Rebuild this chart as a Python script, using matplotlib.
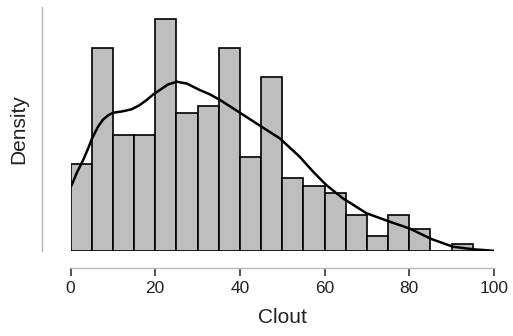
import numpy as np
import matplotlib.pyplot as plt

plt.rcParams['font.family'] = ['Liberation Sans', 'DejaVu Sans']

# histogram of Clout, bins of width 5
bin_edges = np.arange(0, 105, 5)
counts = [12, 28, 16, 16, 32, 19, 20, 28, 13, 24, 10, 9, 8, 5, 2, 5, 3, 0, 1, 0]

# density curve
kde_x = [0.3, 1.5, 3.0, 4.2, 5.1, 6.5, 7.7, 9.0, 10.1, 12.3, 14.4, 16.2,
         18.0, 19.5, 21.1, 23.0, 25.1, 27.5, 30.5, 33.0, 35.3, 40.0, 45.1,
         49.4, 54.1, 57.3, 60.4, 64.3, 69.9, 75.4, 80.1, 85.2, 90.3, 95.0,
         99.7]
kde_y = [0.00724, 0.0086, 0.0100, 0.0113, 0.01238, 0.01366, 0.01445, 0.01495,
         0.0152, 0.01535, 0.01557, 0.0160, 0.0166, 0.0172, 0.0177, 0.0183,
         0.01861, 0.0184, 0.0177, 0.0172, 0.0166, 0.0152, 0.01366, 0.01238,
         0.01036, 0.0087, 0.00724, 0.00578, 0.00413, 0.0032, 0.00245,
         0.0013, 0.00045, 0.00017, 0.00001]

total = sum(counts)
width = bin_edges[1] - bin_edges[0]
density = np.array(counts) / (total * width)

fig = plt.figure(figsize=(5.13, 3.36), dpi=100)
ax = fig.add_axes([70.5 / 513, 85.2 / 336, 423.5 / 513, 243.5 / 336])

ax.bar(bin_edges[:-1], density, width=width, align='edge',
       color='#bebebe', edgecolor='black', linewidth=1.2)
ax.plot(kde_x, kde_y, color='black', linewidth=1.8)

ax.set_xlim(0, 100)
ax.set_ylim(0, 0.0268)
ax.set_xticks([0, 20, 40, 60, 80, 100])
ax.set_yticks([])

for s in ['top', 'right']:
    ax.spines[s].set_visible(False)
ax.spines['left'].set_position(('outward', 20.5))
ax.spines['left'].set_color('#b8b8b8')
ax.spines['left'].set_linewidth(1.0)
ax.spines['bottom'].set_position(('outward', 12.5))
ax.spines['bottom'].set_color('#b8b8b8')
ax.spines['bottom'].set_linewidth(1.0)
ax.tick_params(axis='x', length=6, width=1.2, color='#333333',
               labelsize=12.5, labelcolor='#222222', pad=3)

ax.set_xlabel('Clout', fontsize=15, color='#222222', labelpad=9)
ax.set_ylabel('Density', fontsize=15, color='#222222', labelpad=10)

fig.savefig('out.png', dpi=100)
